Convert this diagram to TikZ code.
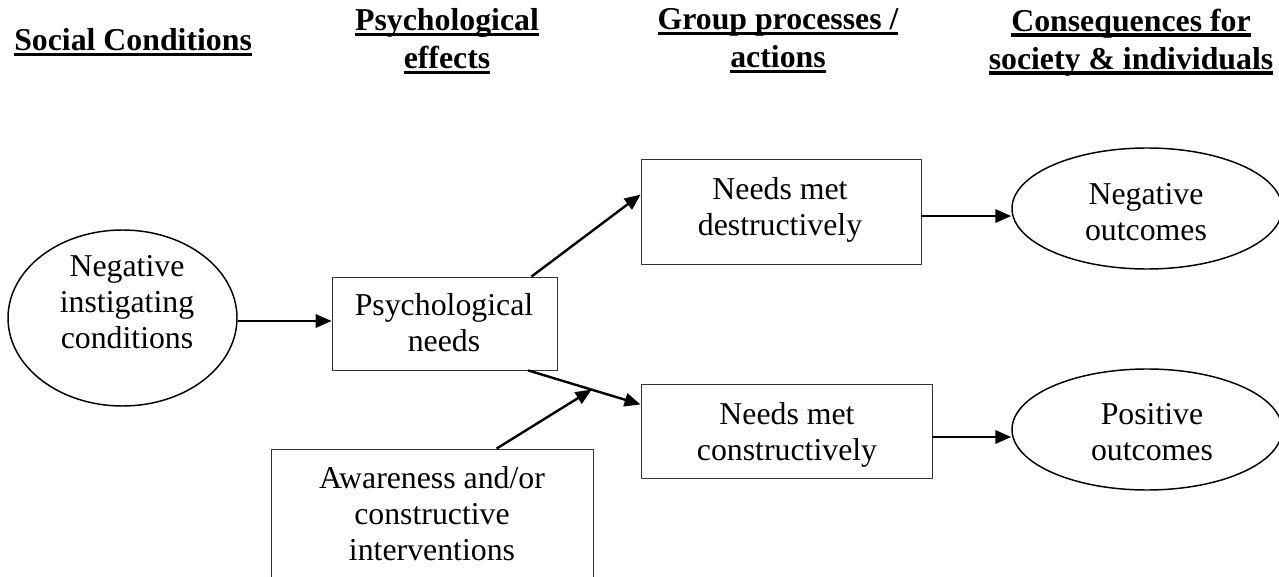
\documentclass[tikz,border=0pt]{standalone}
\usepackage{fontspec}
\setmainfont{Liberation Serif}
\usetikzlibrary{arrows.meta,calc,shapes.geometric}
\newsavebox\hulbox
\newcommand\hul[1]{\sbox\hulbox{#1}\rlap{\rule[-0.17em]{\wd\hulbox}{0.11em}}\usebox\hulbox}
\begin{document}
\begin{tikzpicture}[x=0.75pt,y=-0.75pt,
  txt/.style={font=\fontsize{23.85pt}{27pt}\selectfont, align=center, inner sep=0pt, anchor=north},
  head/.style={font=\fontsize{23.85pt}{28.5pt}\selectfont\bfseries, align=center, inner sep=0pt, anchor=north},
  headone/.style={font=\fontsize{23.85pt}{27pt}\selectfont\bfseries, inner sep=0pt, anchor=base west},
  boxnode/.style={draw=black!80, line width=0.6pt, rectangle, inner sep=0pt},
  ovalnode/.style={draw=black, line width=1.1pt, ellipse, inner sep=0pt},
  arr/.style={line width=1.8pt, -{Triangle[length=12pt,width=10pt]}}
]
\useasboundingbox (0,0) rectangle (1279,577);
\clip (0,0) rectangle (1279,577);

% headers
\node[headone] (h1) at (14,51) {\hul{Social Conditions}};
\node[head] (h2) at (447,8.5) {\hul{Psychological}\\\hul{effects}};
\node[head] (h3) at (778,8.5) {\hul{Group processes /}\\\hul{actions}};
\node[head] (h4) at (1131,8.5) {\hul{Consequences for}\\\hul{society \& individuals}};

% shapes
\node[ovalnode, minimum width=171.75pt, minimum height=132pt] (nic) at (122.5,318) {};
\node[boxnode, minimum width=168.75pt, minimum height=69.75pt] (psy) at (444.5,323.5) {};
\node[boxnode, minimum width=210pt, minimum height=78.75pt] (des) at (781,211.5) {};
\node[boxnode, minimum width=218.25pt, minimum height=70.5pt] (con) at (786.5,431) {};
\node[ovalnode, minimum width=202.5pt, minimum height=90.75pt] (neg) at (1147,208.5) {};
\node[ovalnode, minimum width=202.5pt, minimum height=90.75pt] (pos) at (1147,429.5) {};
\node[boxnode, minimum width=241.5pt, minimum height=113.25pt] (awa) at (432,524.5) {};

% texts
\node[txt] (nict) at (127,255) {Negative\\instigating\\conditions};
\node[txt] (psyt) at (444,293) {Psychological\\needs};
\node[txt] (dest) at (780,177) {Needs met\\destructively};
\node[txt] (cont) at (787,402) {Needs met\\constructively};
\node[txt] (negt) at (1146,183) {Negative\\outcomes};
\node[txt] (post) at (1152,403) {Positive\\outcomes};
\node[txt] (awat) at (432,466) {Awareness and/or\\constructive\\interventions};

% connectors
\coordinate (p1) at ($(psy.south west)!0.87!(psy.south east)$);
\coordinate (p2) at ($(con.north west)!0.22!(con.south west)$);
\coordinate (pm) at ($(p1)!0.565!(p2)$);
\coordinate (p3) at ($(psy.north west)!0.885!(psy.north east)$);
\coordinate (p4) at ($(des.north west)!0.34!(des.south west)$);
\coordinate (p5) at ($(awa.north west)!0.70!(awa.north east)$);

\draw[arr] ([yshift=-2.25pt]nic.east) -- ([yshift=-2.25pt]nic.east -| psy.west);
\draw[arr] (p3) -- (p4);
\draw[arr] (p1) -- (p2);
\draw[arr] (p5) -- (pm);
\draw[arr] ([yshift=-3.4pt]des.east) -- ([yshift=-3.4pt]des.east -| neg.west);
\draw[arr] ([yshift=-4.5pt]con.east) -- ([yshift=-4.5pt]con.east -| pos.west);
\end{tikzpicture}
\end{document}
